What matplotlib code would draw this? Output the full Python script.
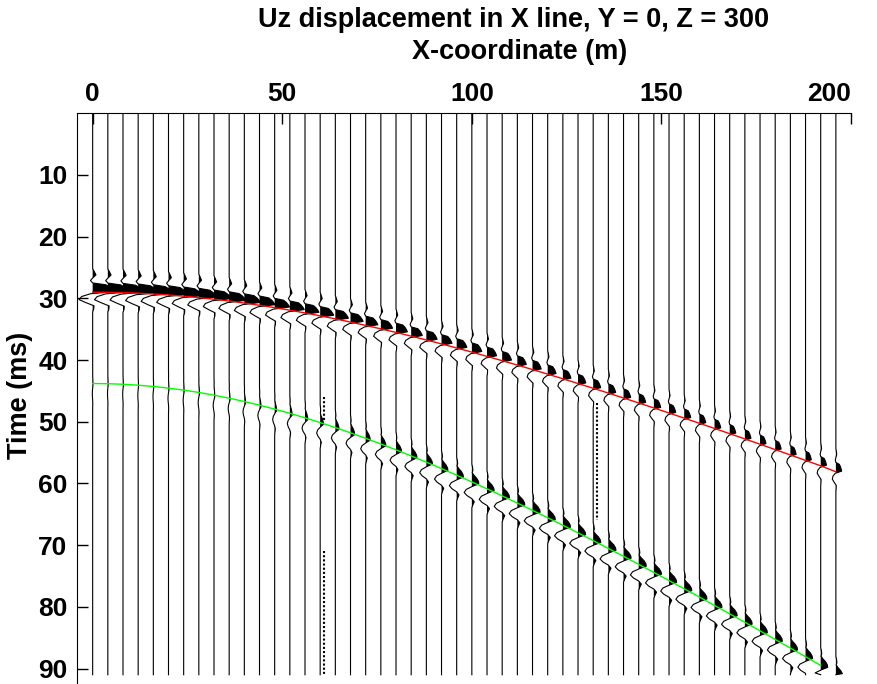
import numpy as np
import matplotlib
matplotlib.use("Agg")
import matplotlib.pyplot as plt

plt.rcParams["font.family"] = ["Liberation Sans", "DejaVu Sans"]
plt.rcParams["font.weight"] = "bold"

# receiver offsets (m)
trace_x = [0, 4, 8, 12, 16, 20, 24, 28, 32, 36, 40, 44, 48, 52, 56, 60, 64,
           68, 72, 76, 80, 84, 88, 92, 96, 100, 104, 108, 112, 116, 120, 124,
           128, 132, 136, 140, 144, 148, 152, 156, 160, 164, 168, 172, 176,
           180, 184, 188, 192, 196]

# picked arrival times (ms), direct (red) and reflected (green)
red_t = [29.00, 29.02, 29.07, 29.16, 29.29, 29.45, 29.65, 29.87, 30.14, 30.43,
         30.76, 31.12, 31.50, 31.92, 32.36, 32.83, 33.32, 33.84, 34.38, 34.94,
         35.52, 36.12, 36.74, 37.38, 38.04, 38.71, 39.40, 40.10, 40.81, 41.54,
         42.28, 43.03, 43.80, 44.57, 45.35, 46.15, 46.95, 47.76, 48.58, 49.41,
         50.24, 51.08, 51.93, 52.78, 53.64, 54.51, 55.38, 56.26, 57.14, 58.10]
green_t = [43.80, 43.83, 43.92, 44.07, 44.28, 44.55, 44.87, 45.25, 45.69, 46.18,
           46.72, 47.31, 47.95, 48.63, 49.36, 50.13, 50.94, 51.79, 52.68, 53.60,
           54.55, 55.54, 56.55, 57.59, 58.66, 59.76, 60.87, 62.01, 63.18, 64.36,
           65.56, 66.78, 68.01, 69.27, 70.53, 71.81, 73.11, 74.42, 75.74, 77.07,
           78.41, 79.77, 81.13, 82.50, 83.89, 85.28, 86.68, 88.08, 89.50, 90.92]

# peak amplitudes in trace spacings
red_amp = [1.45, 1.42, 1.38, 1.34, 1.30, 1.26, 1.22, 1.18, 1.14, 1.10,
           1.06, 1.02, 0.98, 0.95, 0.92, 0.89, 0.86, 0.83, 0.80, 0.77,
           0.75, 0.73, 0.71, 0.69, 0.67, 0.65, 0.63, 0.61, 0.59, 0.57,
           0.55, 0.53, 0.51, 0.49, 0.48, 0.47, 0.46, 0.45, 0.44, 0.43,
           0.42, 0.41, 0.40, 0.40, 0.39, 0.39, 0.38, 0.38, 0.38, 0.38]
green_amp = [0.02, 0.02, 0.02, 0.02, 0.02, 0.03, 0.03, 0.04, 0.05, 0.06,
             0.08, 0.10, 0.12, 0.15, 0.18, 0.21, 0.24, 0.27, 0.30, 0.33,
             0.36, 0.38, 0.40, 0.42, 0.44, 0.46, 0.47, 0.48, 0.49, 0.50,
             0.50, 0.50, 0.50, 0.50, 0.50, 0.50, 0.50, 0.50, 0.50, 0.50,
             0.50, 0.49, 0.49, 0.48, 0.48, 0.47, 0.47, 0.46, 0.46, 0.45]

# wavelet samples: lag from picked time (ms) and normalised amplitude
red_lag = [-3.8, -3.3, -2.8, -2.3, -1.9, -1.5, -1.2, -0.8, -0.4, -0.1,
           0.25, 0.7, 1.2, 1.7, 2.2, 2.7, 3.2]
red_wav = [0.0, 0.08, 0.15, 0.0, -0.10, 0.0, 0.6, 0.8, 0.93, 1.0,
           -0.1, -0.5, -0.62, -0.3, 0.06, 0.05, 0.0]
green_lag = [-2.9, -2.4, -1.9, -1.5, -1.1, -0.6, -0.1, 0.3, 0.7, 1.2,
             1.7, 2.2, 2.7, 3.2, 3.7, 4.2]
green_wav = [0.0, 0.1, 0.15, 0.05, 0.3, 0.7, 0.95, 1.0, 0.1, -0.8,
             -1.1, -0.7, 0.0, 0.35, 0.15, 0.0]

t_end = 91.0
spacing = 4.0

# small numerical noise seen on a few traces
noise_x = [60, 60, 132]
noise_from = [46.0, 71.0, 47.0]
noise_to = [50.0, 91.0, 66.0]

fig = plt.figure(figsize=(8.77, 6.84), dpi=100)
ax = fig.add_axes([0.0881, 0.0, 0.8823, 0.8344])

for i, x0 in enumerate(trace_x):
    t = np.concatenate([[0.0], red_t[i] + np.array(red_lag),
                        green_t[i] + np.array(green_lag), [t_end]])
    a = np.concatenate([[0.0], red_amp[i] * spacing * np.array(red_wav),
                        green_amp[i] * spacing * np.array(green_wav), [0.0]])
    keep = t <= t_end
    t, a = t[keep], a[keep]
    ax.fill_betweenx(t, x0, x0 + a, where=a > 0, interpolate=True,
                     color="black", lw=0)
    ax.plot(x0 + a, t, color="black", lw=0.8)

for x0, t0, t1 in zip(noise_x, noise_from, noise_to):
    ax.plot([x0 + 1, x0 + 1], [t0, t1], color="black", lw=1.5, ls=(0, (1, 1)))

ax.plot(trace_x, red_t, color="#ff0000", lw=1.0)
ax.plot(trace_x[:-1], green_t[:-1], color="#00ff00", lw=1.0)

ax.set_xlim(-4.06, 200)
ax.set_ylim(92.5, 0)
ax.spines["right"].set_visible(False)
ax.spines["bottom"].set_visible(False)
ax.xaxis.tick_top()
ax.set_xticks([0, 50, 100, 150, 200])
ax.set_yticks([10, 20, 30, 40, 50, 60, 70, 80, 90])
ax.tick_params(axis="both", direction="in", length=8, width=1,
               labelsize=19, pad=5)
ax.tick_params(axis="y", pad=7)
for lab in ax.get_xticklabels() + ax.get_yticklabels():
    lab.set_fontweight("bold")
ax.get_xticklabels()[-1].set_horizontalalignment("right")

fig.text(0.586, 1 - 20 / 684, "Uz displacement in X line, Y = 0, Z = 300",
         ha="center", va="center", fontsize=19.5, fontweight="bold")
fig.text(0.593, 1 - 52 / 684, "X-coordinate (m)",
         ha="center", va="center", fontsize=19.5, fontweight="bold")
fig.text(20 / 877, 1 - 395 / 684, "Time (ms)", rotation=90,
         ha="center", va="center", fontsize=19.5, fontweight="bold")

fig.savefig("out.png", dpi=100)
